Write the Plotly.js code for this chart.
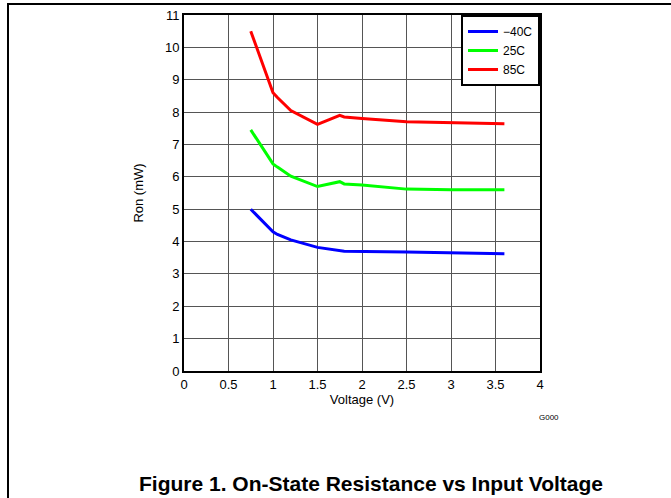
<!DOCTYPE html>
<html><head><meta charset="utf-8">
<script src="https://cdn.plot.ly/plotly-3.0.1.min.js"></script>
<style>
html,body{margin:0;padding:0;background:#fff;}
#wrap{position:relative;width:671px;height:498px;}
#chart{position:absolute;left:0;top:0;width:671px;height:498px;}
.bl{position:absolute;background:#000;}
</style>
</head><body>
<div id="wrap">
<div id="chart"></div>
<div class="bl" style="left:7px;top:3px;width:2px;height:495px;"></div>
<div class="bl" style="left:7px;top:3px;width:664px;height:2px;"></div>
</div>
<script>
const seriesNames = ['\u221240C', '25C', '85C'];
const seriesColors = ['#0000ff', '#00ff00', '#ff0000'];
const xBlue = [0.75, 1.0, 1.05, 1.2, 1.5, 1.8, 2.5, 3.0, 3.6];
const yBlue = [5.0, 4.3, 4.22, 4.05, 3.82, 3.7, 3.68, 3.66, 3.62];
const xGreen = [0.75, 1.0, 1.05, 1.2, 1.5, 1.75, 1.8, 2.0, 2.5, 3.0, 3.6];
const yGreen = [7.45, 6.4, 6.3, 6.02, 5.7, 5.85, 5.78, 5.75, 5.62, 5.6, 5.6];
const xRed = [0.75, 1.0, 1.05, 1.2, 1.5, 1.75, 1.8, 2.0, 2.5, 3.0, 3.6];
const yRed = [10.5, 8.6, 8.45, 8.05, 7.62, 7.9, 7.85, 7.8, 7.7, 7.67, 7.64];
const xTicks = [0, 0.5, 1, 1.5, 2, 2.5, 3, 3.5, 4];
const xTickLabels = ['0', '0.5', '1', '1.5', '2', '2.5', '3', '3.5', '4'];
const yTicks = [0,1,2,3,4,5,6,7,8,9,10,11];
const xTitle = 'Voltage (V)';
const yTitle = 'Ron (mW)';
const figTitle = 'Figure 1. On-State Resistance vs Input Voltage';
const tagText = 'G000';

const xs = [xBlue, xGreen, xRed];
const ys = [yBlue, yGreen, yRed];
const traces = xs.map((x, i) => ({
  x: x, y: ys[i], type: 'scatter', mode: 'lines', name: seriesNames[i],
  line: {color: seriesColors[i], width: 3}
}));
const font = {family: 'Liberation Sans, Arial, sans-serif', size: 13, color: '#000'};
const layout = {
  width: 671, height: 498,
  margin: {l: 184, r: 131, t: 15, b: 127, pad: 0},
  paper_bgcolor: '#fff', plot_bgcolor: '#fff',
  font: font,
  showlegend: true,
  legend: {x: 1, y: 1, xanchor: 'right', yanchor: 'top', bordercolor: '#000', borderwidth: 2,
    bgcolor: '#fff', font: {family: font.family, size: 12, color: '#000'}, tracegroupgap: 0,
    itemwidth: 30},
  xaxis: {range: [0, 4], tickvals: xTicks, ticktext: xTickLabels, showgrid: true, gridcolor: '#555', gridwidth: 1,
    zeroline: false, showline: true, linecolor: '#000', linewidth: 2, mirror: true, ticks: '',
    title: {text: xTitle, font: {size: 13}, standoff: 3}, tickfont: {size: 13}},
  yaxis: {range: [0, 11], tickvals: yTicks, showgrid: true, gridcolor: '#555', gridwidth: 1,
    zeroline: false, showline: true, linecolor: '#000', linewidth: 2, mirror: true, ticks: '',
    title: {text: yTitle, font: {size: 13}, standoff: 18}, tickfont: {size: 13}},
  annotations: [
    {text: tagText, xref: 'paper', yref: 'paper', x: 1.024, y: -0.13, xanchor: 'center', yanchor: 'middle',
     showarrow: false, font: {size: 8, color: '#000'}},
    {text: '<b>' + figTitle + '</b>', xref: 'paper', yref: 'paper', x: 0.525, y: -0.317, xanchor: 'center', yanchor: 'middle',
     showarrow: false, font: {family: 'Liberation Sans Narrow, Liberation Sans, Arial, sans-serif', size: 21, color: '#000'}}
  ]
};
Plotly.newPlot('chart', traces, layout, {displayModeBar: false, staticPlot: true});
</script>
</body></html>
